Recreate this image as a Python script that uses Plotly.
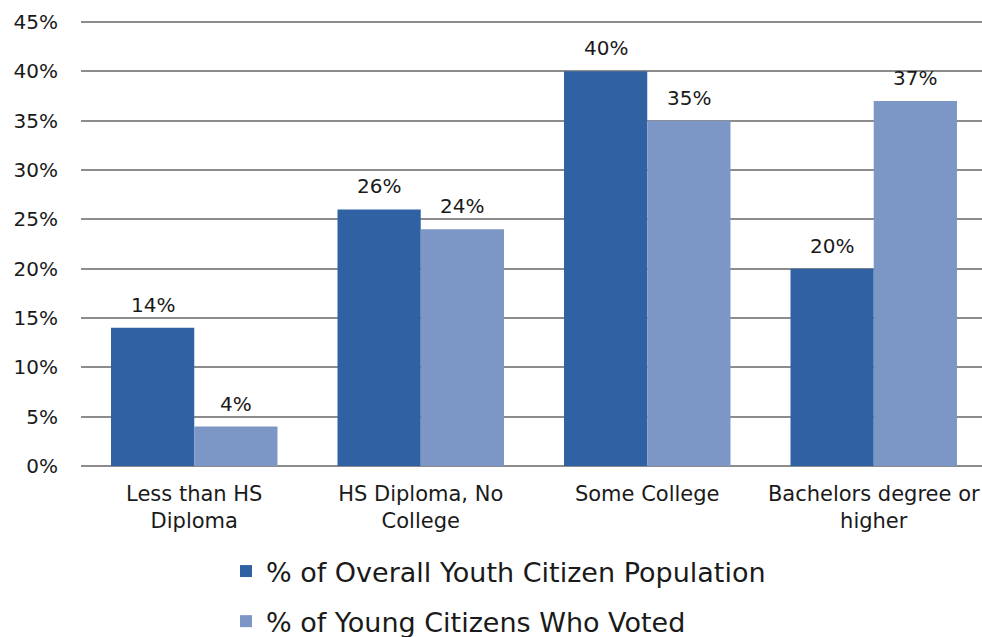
import plotly.graph_objects as go

categories = ["Less than HS<br>Diploma", "HS Diploma, No<br>College", "Some College", "Bachelors degree or<br>higher"]
overall_pop = [14, 26, 40, 20]
voted = [4, 24, 35, 37]
series_names = ["% of Overall Youth Citizen Population", "% of Young Citizens Who Voted"]
tick_vals = [0, 5, 10, 15, 20, 25, 30, 35, 40, 45]
tick_text = [f"{v}%" for v in tick_vals]

FONT = "DejaVu Sans"
W, H = 982, 637
ML, MR, MT, MB = 81, 0, 19, 171
PLOT_W = W - ML - MR
PLOT_H = H - MT - MB
XRANGE = [-0.5, 3.478]
BARGAP = 0.265
px_per_cat = PLOT_W / (XRANGE[1] - XRANGE[0])
bar_off = px_per_cat * (1 - BARGAP) / 4

fig = go.Figure()
fig.add_trace(go.Bar(
    x=categories, y=overall_pop, name=series_names[0],
    marker=dict(color="#3062A3", line=dict(width=0)),
    legendgroup="a", hoverinfo="x+y",
))
fig.add_trace(go.Bar(
    x=categories, y=voted, name=series_names[1],
    marker=dict(color="#7C96C6", line=dict(width=0)),
    legendgroup="b", hoverinfo="x+y",
))

annotations = []
for series, shift in ((overall_pop, -bar_off), (voted, bar_off)):
    for cat, val in zip(categories, series):
        annotations.append(dict(
            x=cat, y=val, xref="x", yref="y", text=f"{val}%",
            showarrow=False, xshift=shift, yshift=23, yanchor="middle",
            font=dict(family=FONT, size=20, color="#1a1a1a"),
        ))

fig.update_layout(
    width=W, height=H,
    margin=dict(l=ML, r=MR, t=MT, b=MB, autoexpand=False),
    paper_bgcolor="white", plot_bgcolor="white",
    barmode="group", bargap=BARGAP, bargroupgap=0,
    font=dict(family=FONT, color="#1a1a1a"),
    showlegend=True,
    annotations=annotations,
    legend=dict(
        orientation="v",
        x=145 / PLOT_W, xanchor="left", y=-81 / PLOT_H, yanchor="top",
        font=dict(family=FONT, size=27, color="#1a1a1a"),
        traceorder="grouped", tracegroupgap=12,
        itemwidth=30,
    ),
    xaxis=dict(
        range=XRANGE, showgrid=False, showline=False, zeroline=False,
        automargin=False, ticks="", ticklabelstandoff=13, tickangle=0,
        tickfont=dict(family=FONT, size=21, color="#1a1a1a"),
    ),
    yaxis=dict(
        range=[0, 45.3], tickvals=tick_vals, ticktext=tick_text,
        showgrid=True, gridcolor="#8c8c8c", gridwidth=1.5,
        zeroline=True, zerolinecolor="#8c8c8c", zerolinewidth=1.5,
        showline=False, ticks="", ticklen=0, automargin=False,
        ticklabelstandoff=22,
        tickfont=dict(family=FONT, size=20, color="#1a1a1a"),
    ),
)

fig.write_html(
    "out.html",
    config={"displayModeBar": False},
    post_script="document.body.style.margin='0px';document.body.style.overflow='hidden';",
)
